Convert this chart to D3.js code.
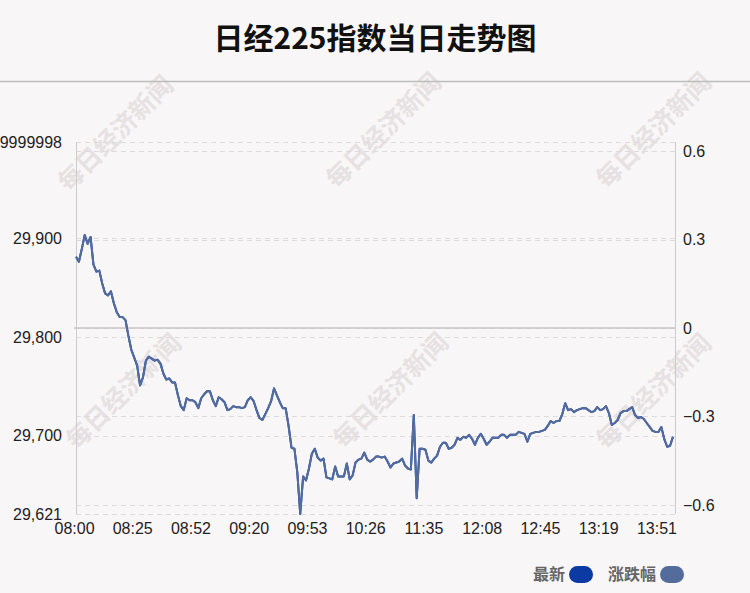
<!DOCTYPE html>
<html><head><meta charset="utf-8">
<script src="https://cdn.jsdelivr.net/npm/d3@7/dist/d3.min.js"></script>
<style>body{margin:0;background:#f9f6f7;}svg{display:block;}</style>
</head><body>
<svg id="chart" width="750" height="593"></svg>
<script>
const title = "日经225指数当日走势图";
const tickLabels = ["08:00","08:25","08:52","09:20","09:53","10:26","11:35","12:08","12:45","13:19","13:51"];
const labelStep = 20;
const prevClose = 29809;
const prices = [
29881,29876,29889,29903,29894,29901,29873,29866,29867,29854,
29844,29842,29846,29834,29825,29820,29820,29817,29801,29787,
29779,29771,29751,29759,29776,29780,29778,29776,29777,29773,
29763,29757,29758,29754,29754,29741,29730,29726,29738,29736,
29736,29734,29728,29738,29742,29745,29745,29736,29730,29739,
29737,29734,29726,29727,29730,29729,29729,29728,29729,29736,
29739,29735,29726,29718,29716,29722,29728,29735,29748,29741,
29734,29728,29728,29710,29688,29687,29663,29621,29659,29655,
29667,29682,29687,29678,29675,29677,29658,29657,29656,29669,
29659,29659,29659,29672,29656,29660,29673,29676,29677,29683,
29676,29674,29676,29679,29679,29678,29679,29674,29668,29672,
29673,29674,29677,29670,29667,29666,29721,29637,29687,29687,
29686,29675,29673,29677,29680,29689,29693,29693,29687,29688,
29691,29698,29696,29699,29698,29701,29697,29691,29698,29702,
29697,29691,29694,29698,29698,29698,29701,29701,29698,29701,
29701,29701,29704,29703,29702,29694,29702,29703,29704,29704,
29705,29706,29710,29715,29713,29715,29715,29722,29733,29726,
29727,29724,29726,29727,29728,29728,29726,29724,29725,29729,
29726,29727,29730,29723,29711,29713,29716,29723,29725,29725,
29727,29729,29721,29718,29719,29717,29713,29709,29705,29704,
29704,29709,29697,29689,29690,29699
];
const leftMin = 29621, leftMax = 29997;
const leftTicks = [29621, 29700, 29800, 29900, 29997];
const leftTickText = ["29,621","29,700","29,800","29,900","29,996.9999998"];
const rightTicks = [-0.6, -0.3, 0, 0.3, 0.6];
const legendNames = ["最新", "涨跌幅"];
const seriesColors = ["#0b3aa3", "#546c9c"];
const watermark = "每日经济新闻";

const svg = d3.select("#chart");
const W = 750, H = 593;
const L = 76, R = 675, T = 142, B = 514;

svg.append("rect").attr("width", W).attr("height", H).attr("fill", "#f9f6f7");

// watermarks
const wmPos = [[117,135],[385,132],[655,132],[125,393],[392,392],[655,393]];
svg.append("g").selectAll("text").data(wmPos).join("text")
  .attr("transform", d => `translate(${d[0]},${d[1]}) rotate(-45)`)
  .attr("text-anchor", "middle").attr("dominant-baseline", "middle")
  .attr("font-family", "'Noto Sans CJK SC', sans-serif").attr("font-weight", "bold")
  .attr("font-size", 25).attr("fill", "#e6e1e2").text(watermark);

// title
svg.append("text").attr("x", 375).attr("y", 49).attr("text-anchor", "middle")
  .attr("font-family", "'Noto Sans CJK SC', sans-serif").attr("font-weight", "bold")
  .attr("font-size", 30).attr("fill", "#111").text(title);
svg.append("line").attr("x1", 0).attr("x2", W).attr("y1", 81.5).attr("y2", 81.5)
  .attr("stroke", "#bdbdbd").attr("stroke-width", 1.5);

const x = d3.scaleLinear().domain([0, prices.length - 1]).range([L, L + (prices.length - 1) * 2.912]);
const yL = d3.scaleLinear().domain([leftMin, leftMax]).range([B, T]);
const pctSpan = (leftMax - prevClose) / prevClose * 100;
const yR = d3.scaleLinear().domain([-pctSpan, pctSpan]).range([B, T]);
const pct = prices.map(p => (p - prevClose) / prevClose * 100);

// grid lines
const grid = svg.append("g").attr("stroke", "#dedbdc").attr("stroke-dasharray", "5,4").attr("stroke-width", 1);
leftTicks.forEach(v => grid.append("line").attr("x1", L).attr("x2", R).attr("y1", Math.round(yL(v)) + 0.5).attr("y2", Math.round(yL(v)) + 0.5));
rightTicks.forEach(v => grid.append("line").attr("x1", L).attr("x2", R).attr("y1", Math.round(yR(v)) + 0.5).attr("y2", Math.round(yR(v)) + 0.5));

// axis lines
svg.append("line").attr("x1", L + 0.5).attr("x2", L + 0.5).attr("y1", T).attr("y2", B).attr("stroke", "#cccccc");
svg.append("line").attr("x1", R + 0.5).attr("x2", R + 0.5).attr("y1", T).attr("y2", B).attr("stroke", "#cccccc");
// previous close line
svg.append("line").attr("x1", L - 2).attr("x2", R).attr("y1", yR(0)).attr("y2", yR(0))
  .attr("stroke", "#c8c6c7").attr("stroke-width", 1.5);

// left axis labels
const axisFont = "'Liberation Sans', Arial, sans-serif";
const leftAxis = d3.axisLeft(yL).tickValues(leftTicks).tickFormat((d, i) => leftTickText[i]).tickSize(0).tickPadding(14);
const gL = svg.append("g").attr("transform", `translate(${L},0)`).call(leftAxis);
gL.select(".domain").remove();
gL.selectAll("text").attr("font-family", axisFont).attr("font-size", 16).attr("fill", "#222");

const rightAxis = d3.axisRight(yR).tickValues(rightTicks).tickFormat(d => d === 0 ? "0" : d3.format(".1f")(d)).tickSize(0).tickPadding(8);
const gR = svg.append("g").attr("transform", `translate(${R},0)`).call(rightAxis);
gR.select(".domain").remove();
gR.selectAll("text").attr("font-family", axisFont).attr("font-size", 16).attr("fill", "#222");

// x axis labels
const xTicks = tickLabels.map((t, i) => i * labelStep);
const bottomAxis = d3.axisBottom(x).tickValues(xTicks).tickFormat((d, i) => tickLabels[i]).tickSize(0).tickPadding(9);
const gB = svg.append("g").attr("transform", `translate(-2,${B})`).call(bottomAxis);
gB.select(".domain").remove();
gB.selectAll("text").attr("font-family", axisFont).attr("font-size", 16).attr("fill", "#222");

// lines
const lineL = d3.line().x((d, i) => x(i)).y(d => yL(d));
const lineR = d3.line().x((d, i) => x(i)).y(d => yR(d));
svg.append("path").datum(prices).attr("d", lineL).attr("fill", "none")
  .attr("stroke", seriesColors[0]).attr("stroke-width", 2).attr("stroke-linejoin", "round");
svg.append("path").datum(pct).attr("d", lineR).attr("fill", "none")
  .attr("stroke", seriesColors[1]).attr("stroke-width", 2).attr("stroke-linejoin", "round");

// legend
const leg = svg.append("g");
const legX = [533, 608];
legendNames.forEach((n, i) => {
  const t = leg.append("text").attr("x", legX[i]).attr("y", 580)
    .attr("font-family", "'Noto Sans CJK SC', sans-serif").attr("font-weight", "bold")
    .attr("font-size", 16).attr("fill", "#666").text(n);
  const w = t.node().getComputedTextLength();
  leg.append("rect").attr("x", legX[i] + w + 4).attr("y", 566).attr("width", 24).attr("height", 17)
    .attr("rx", 8.5).attr("fill", seriesColors[i]);
});
</script>
</body></html>
